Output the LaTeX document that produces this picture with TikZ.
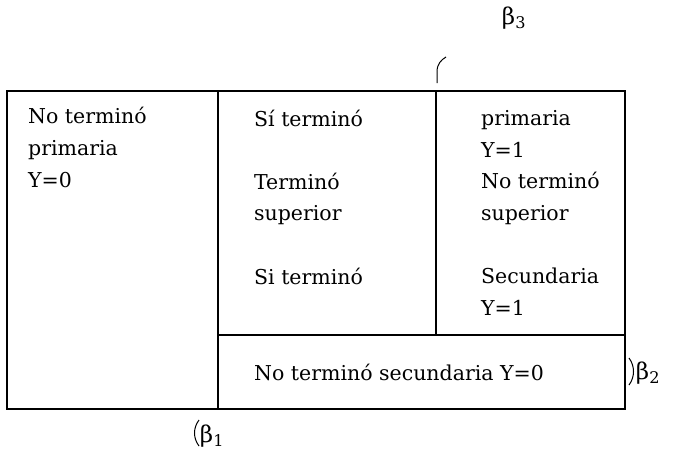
\documentclass[tikz,border=0pt]{standalone}
\usepackage{fontspec}
\setmainfont{DejaVu Serif}
\usepackage{tikz}
\usetikzlibrary{positioning}

\begin{document}
\begin{tikzpicture}[x=1pt, y=-1pt, line width=2.3pt,
    every node/.style={font=\fontsize{20.5}{31.6}\selectfont},
    celltext/.style={anchor=base west, align=left, inner sep=0pt},
    betalabel/.style={inner sep=0pt, font=\fontsize{23}{28}\selectfont}]
  \useasboundingbox (0,0) rectangle (694,453);
  % frame and cells
  \draw (7,91) rectangle (625,409);
  \draw (218,91) -- (218,409);
  \draw (218,335) -- (625,335);
  \draw (436,91) -- (436,335);
  % cell texts (anchored at the baseline of the last line)
  \node[celltext] (colA) at (27,187) {No terminó\\primaria\\Y=0};
  \node[celltext] (colB) at (253,284) {Sí terminó\\[31.6pt]Terminó\\superior\\[31.6pt]Si terminó};
  \node[celltext] (colC) at (480,315) {primaria\\Y=1\\No terminó\\superior\\[31.6pt]Secundaria\\Y=1};
  \node[celltext] (rowD) at (253,380) {No terminó secundaria Y=0};
  % brackets and betas
  \draw[line width=1pt] (437,83) -- (437,72) .. controls (437,64) and (441,60) .. (446,57);
  \node[betalabel] (betaC) at (514,18) {β\textsubscript{3}};
  \draw[line width=1pt] (629,358) .. controls (635,366) and (635,377) .. (629,385);
  \node[betalabel] (betaB) at (648,373) {β\textsubscript{2}};
  \draw[line width=1pt] (199,420) .. controls (193,428) and (193,438) .. (199,446);
  \node[betalabel] (betaA) at (212,436) {β\textsubscript{1}};
\end{tikzpicture}
\end{document}
